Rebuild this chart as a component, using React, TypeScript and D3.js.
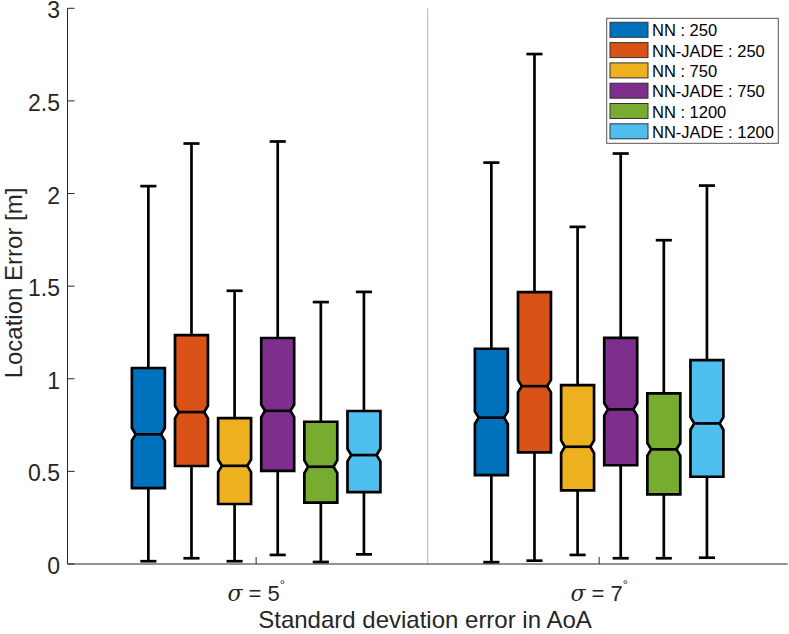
import React, { useEffect } from "react";
import * as d3 from "d3";

const seriesNames = ["NN : 250", "NN-JADE : 250", "NN : 750", "NN-JADE : 750", "NN : 1200", "NN-JADE : 1200"];
const seriesColors = ["#0072BD", "#D95319", "#EDB120", "#7E2F8E", "#77AC30", "#4DBEEE"];
const groupSigma = [5, 7];
const yTicks = [0, 0.5, 1, 1.5, 2, 2.5, 3];

// per group, per series
const whiskerLow = [
  [0.015, 0.031, 0.015, 0.049, 0.011, 0.052],
  [0.01, 0.018, 0.049, 0.031, 0.031, 0.034],
];
const q1 = [
  [0.41, 0.529, 0.324, 0.503, 0.331, 0.388],
  [0.48, 0.603, 0.398, 0.533, 0.376, 0.471],
];
const median = [
  [0.7, 0.82, 0.53, 0.827, 0.525, 0.588],
  [0.79, 0.96, 0.633, 0.835, 0.619, 0.759],
];
const q3 = [
  [1.058, 1.236, 0.787, 1.22, 0.768, 0.826],
  [1.162, 1.468, 0.966, 1.221, 0.921, 1.101],
];
const whiskerHigh = [
  [2.04, 2.27, 1.475, 2.281, 1.414, 1.469],
  [2.167, 2.753, 1.82, 2.216, 1.748, 2.043],
];

const W = 789;
const H = 634;
const FONT = "'Liberation Sans', Arial, Helvetica, sans-serif";
const AX = "#262626";

export default function App() {
  useEffect(() => {
    document.body.style.margin = "0";
  }, []);

  const x = d3.scaleLinear().domain([0.45, 2.55]).range([67.5, 787.8]);
  const y = d3.scaleLinear().domain([0, 3]).range([564, 8.3]);
  const spacing = 0.1257;
  const boxW = 0.096;
  const capW = 0.047;
  const notchH = 0.034;
  const notchIn = 0.011;

  const boxes: React.ReactNode[] = [];
  groupSigma.forEach((_, g) => {
    seriesNames.forEach((_, i) => {
      const c = g + 1 + (i - 2.5) * spacing;
      const xl = x(c - boxW / 2);
      const xr = x(c + boxW / 2);
      const xli = x(c - boxW / 2 + notchIn);
      const xri = x(c + boxW / 2 - notchIn);
      const m = median[g][i];
      const path = d3.path();
      path.moveTo(xl, y(q3[g][i]));
      path.lineTo(xr, y(q3[g][i]));
      path.lineTo(xr, y(m + notchH));
      path.lineTo(xri, y(m));
      path.lineTo(xr, y(m - notchH));
      path.lineTo(xr, y(q1[g][i]));
      path.lineTo(xl, y(q1[g][i]));
      path.lineTo(xl, y(m - notchH));
      path.lineTo(xli, y(m));
      path.lineTo(xl, y(m + notchH));
      path.closePath();
      const xc = x(c);
      boxes.push(
        <g key={`${g}-${i}`}>
          <line x1={xc} x2={xc} y1={y(q3[g][i])} y2={y(whiskerHigh[g][i])} stroke="#000" strokeWidth={2.7} />
          <line x1={xc} x2={xc} y1={y(q1[g][i])} y2={y(whiskerLow[g][i])} stroke="#000" strokeWidth={2.7} />
          <line x1={x(c - capW / 2)} x2={x(c + capW / 2)} y1={y(whiskerHigh[g][i])} y2={y(whiskerHigh[g][i])} stroke="#000" strokeWidth={2.7} />
          <line x1={x(c - capW / 2)} x2={x(c + capW / 2)} y1={y(whiskerLow[g][i])} y2={y(whiskerLow[g][i])} stroke="#000" strokeWidth={2.7} />
          <path d={path.toString()} fill={seriesColors[i]} stroke="#000" strokeWidth={2.7} strokeLinejoin="miter" />
          <line x1={xli} x2={xri} y1={y(m)} y2={y(m)} stroke="#000" strokeWidth={2.7} />
        </g>
      );
    });
  });

  const legX = 606.7;
  const legY = 18.3;
  const rowH = 20.3;

  return (
    <svg width={W} height={H} style={{ position: "absolute", left: 0, top: 0, background: "#fff" }} fontFamily={FONT}>
      <rect x={0} y={0} width={W} height={H} fill="#fff" />
      {/* divider */}
      <line x1={x(1.5)} x2={x(1.5)} y1={y(3)} y2={y(0)} stroke="#c4c4c4" strokeWidth={1.2} />
      {/* axes */}
      <line x1={x(0.45)} x2={x(0.45)} y1={y(3)} y2={y(0)} stroke={AX} strokeWidth={1} />
      <line x1={x(0.45)} x2={x(2.55)} y1={y(0)} y2={y(0)} stroke={AX} strokeWidth={1} />
      {yTicks.map((t) => (
        <g key={t}>
          <line x1={x(0.45)} x2={x(0.45) + 7} y1={y(t)} y2={y(t)} stroke={AX} strokeWidth={1} />
          <text x={60} y={y(t) + 2} textAnchor="end" dominantBaseline="central" fontSize={23} fill={AX}>
            {String(t)}
          </text>
        </g>
      ))}
      {groupSigma.map((s, g) => (
        <g key={s}>
          <line x1={x(g + 1)} x2={x(g + 1)} y1={y(0)} y2={y(0) - 7} stroke={AX} strokeWidth={1} />
          <text x={x(g + 1)} y={601} textAnchor="middle" fontSize={22} fill={AX}>
            <tspan fontStyle="italic" fontFamily="'DejaVu Serif', 'Liberation Serif', serif">σ</tspan>
            <tspan>{` = ${s}`}</tspan>
            <tspan dy={-12} fontSize={13}>°</tspan>
          </text>
        </g>
      ))}
      {boxes}
      <text x={425} y={628} textAnchor="middle" fontSize={24} fill={AX}>
        Standard deviation error in AoA
      </text>
      <text transform={`translate(22,283) rotate(-90)`} textAnchor="middle" fontSize={24} fill={AX}>
        Location Error [m]
      </text>
      {/* legend */}
      <rect x={legX} y={legY} width={171.6} height={125} fill="#fff" stroke="#555" strokeWidth={1} />
      {seriesNames.map((n, i) => {
        const cy = 29.8 + i * rowH;
        return (
          <g key={n}>
            <rect x={610} y={cy - 7.5} width={38} height={15} fill={seriesColors[i]} stroke="#333" strokeWidth={1} />
            <text x={652} y={cy + 0.5} dominantBaseline="central" fontSize={16.5} fill="#000">
              {n}
            </text>
          </g>
        );
      })}
    </svg>
  );
}
